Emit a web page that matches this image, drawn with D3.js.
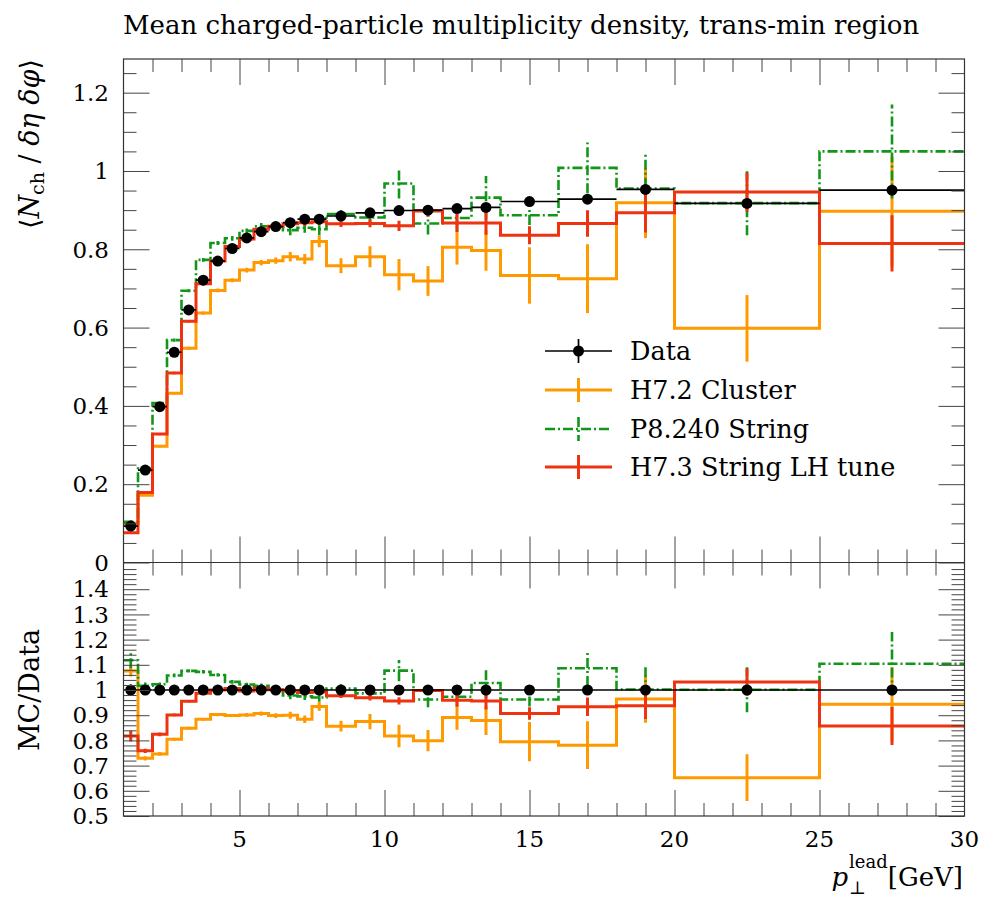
<!DOCTYPE html>
<html>
<head>
<meta charset="utf-8">
<script src="https://cdn.jsdelivr.net/npm/d3@7/dist/d3.min.js"></script>
<style>
body { margin: 0; background: #fff; }
svg { display: block; }
text { font-family: "DejaVu Serif", serif; fill: #000; }
</style>
</head>
<body>
<svg id="vis" width="996" height="900"></svg>
<script>
// bin edges of the leading-track pT histogram
const binEdges = [1, 1.5, 2, 2.5, 3, 3.5, 4, 4.5, 5, 5.5, 6, 6.5, 7, 7.5, 8,
    9, 10, 11, 12, 13, 14, 16, 18, 20, 25, 30];

// measured data
const dataVals = [0.093, 0.236, 0.398, 0.537, 0.645, 0.721, 0.770, 0.802, 0.829, 0.845,
    0.858, 0.868, 0.877, 0.877, 0.885, 0.893, 0.899, 0.900, 0.904, 0.907,
    0.922, 0.928, 0.953, 0.917, 0.951];
const dataErrs = [0.002, 0.002, 0.002, 0.002, 0.002, 0.002, 0.002, 0.002, 0.003, 0.003,
    0.003, 0.003, 0.003, 0.003, 0.003, 0.004, 0.004, 0.005, 0.005, 0.005,
    0.005, 0.006, 0.007, 0.008, 0.010];

// H7.2 Cluster
const h72Vals = [0.100, 0.172, 0.297, 0.432, 0.547, 0.637, 0.695, 0.721, 0.747, 0.766,
    0.771, 0.781, 0.775, 0.820, 0.758, 0.781, 0.735, 0.719, 0.805, 0.797,
    0.733, 0.725, 0.919, 0.598, 0.897];
const h72Errs = [0.002, 0.002, 0.003, 0.003, 0.004, 0.004, 0.005, 0.005, 0.006, 0.007,
    0.008, 0.012, 0.013, 0.015, 0.019, 0.027, 0.040, 0.038, 0.044, 0.052,
    0.072, 0.088, 0.090, 0.085, 0.140];

// P8.240 String
const p8Vals = [0.104, 0.240, 0.407, 0.568, 0.694, 0.773, 0.816, 0.828, 0.847, 0.859,
    0.859, 0.849, 0.855, 0.851, 0.890, 0.881, 0.968, 0.866, 0.880, 0.932,
    0.887, 1.008, 0.955, 0.918, 1.050];
const p8Errs = [0.003, 0.003, 0.003, 0.004, 0.004, 0.005, 0.005, 0.006, 0.006, 0.008,
    0.010, 0.013, 0.013, 0.015, 0.015, 0.017, 0.038, 0.028, 0.030, 0.055,
    0.025, 0.065, 0.090, 0.082, 0.120];

// H7.3 String LH tune
const h73Vals = [0.076, 0.179, 0.328, 0.484, 0.616, 0.712, 0.770, 0.807, 0.826, 0.851,
    0.859, 0.865, 0.868, 0.870, 0.865, 0.866, 0.860, 0.898, 0.867, 0.867,
    0.836, 0.866, 0.893, 0.946, 0.815];
const h73Errs = [0.002, 0.002, 0.003, 0.003, 0.003, 0.004, 0.004, 0.004, 0.005, 0.005,
    0.006, 0.006, 0.008, 0.008, 0.008, 0.010, 0.013, 0.015, 0.023, 0.030,
    0.023, 0.034, 0.050, 0.050, 0.072];

const xTickLabels = [5, 10, 15, 20, 25, 30];
const mainTickLabels = ["0", "0.2", "0.4", "0.6", "0.8", "1", "1.2"];
const ratioTickLabels = ["0.5", "0.6", "0.7", "0.8", "0.9", "1", "1.1", "1.2", "1.3", "1.4"];

const svg = d3.select('#vis');

const X0 = 123.5, X1 = 964.5, Y0 = 59, YM = 562.5, Y1 = 816;
const x = d3.scaleLinear().domain([1, 30]).range([X0, X1]);
const yMain = d3.scaleLinear().domain([0, 1.286]).range([YM, Y0]);
const yRatio = d3.scaleLinear().domain([0.5, 1.506]).range([Y1, YM]);

const series = [
    {name: "H7.2 Cluster", vals: h72Vals, errs: h72Errs, color: "#FF9900", width: 3, dash: null},
    {name: "P8.240 String", vals: p8Vals, errs: p8Errs, color: "#109618", width: 2.6, dash: "10,3,2,3"},
    {name: "H7.3 String LH tune", vals: h73Vals, errs: h73Errs, color: "#EE3311", width: 3, dash: null}
];

const defs = svg.append('defs');
defs.append('clipPath').attr('id', 'clipMain').append('rect')
    .attr('x', X0).attr('y', Y0).attr('width', X1 - X0).attr('height', YM - Y0);
defs.append('clipPath').attr('id', 'clipRatio').append('rect')
    .attr('x', X0).attr('y', YM).attr('width', X1 - X0).attr('height', Y1 - YM);

const centers = binEdges.slice(0, -1).map(function (lo, i) {
    return (lo + binEdges[i + 1]) / 2;
});

// step histogram with vertical error bars
function drawHist(g, y, vals, errs, s) {
    var pts = [];
    vals.forEach(function (v, i) {
        pts.push([binEdges[i], v]);
        pts.push([binEdges[i + 1], v]);
    });
    var line = d3.line().x(function (d) { return x(d[0]); }).y(function (d) { return y(d[1]); });
    g.append('path')
        .attr('d', line(pts))
        .attr('fill', 'none')
        .attr('stroke', s.color)
        .attr('stroke-width', s.width)
        .attr('stroke-dasharray', s.dash)
        .attr('stroke-linejoin', 'miter');
    g.selectAll(null)
        .data(vals)
        .enter().append('line')
        .attr('x1', function (d, i) { return x(centers[i]); })
        .attr('x2', function (d, i) { return x(centers[i]); })
        .attr('y1', function (d, i) { return y(d - errs[i]); })
        .attr('y2', function (d, i) { return y(d + errs[i]); })
        .attr('stroke', s.color)
        .attr('stroke-width', s.width)
        .attr('stroke-dasharray', s.dash);
}

function drawData(g, y, vals, errs) {
    g.selectAll(null).data(vals).enter().append('line')
        .attr('x1', function (d, i) { return x(binEdges[i]); })
        .attr('x2', function (d, i) { return x(binEdges[i + 1]); })
        .attr('y1', function (d) { return y(d); })
        .attr('y2', function (d) { return y(d); })
        .attr('stroke', '#000').attr('stroke-width', 1.7);
    g.selectAll(null).data(vals).enter().append('line')
        .attr('x1', function (d, i) { return x(centers[i]); })
        .attr('x2', function (d, i) { return x(centers[i]); })
        .attr('y1', function (d, i) { return y(d - errs[i]); })
        .attr('y2', function (d, i) { return y(d + errs[i]); })
        .attr('stroke', '#000').attr('stroke-width', 1.7);
    g.selectAll(null).data(vals).enter().append('circle')
        .attr('cx', function (d, i) { return x(centers[i]); })
        .attr('cy', function (d) { return y(d); })
        .attr('r', 5.5)
        .attr('fill', '#000');
}

// main panel
const gMain = svg.append('g').attr('clip-path', 'url(#clipMain)');
series.forEach(function (s) {
    drawHist(gMain, yMain, s.vals, s.errs, s);
});
drawData(gMain, yMain, dataVals, dataErrs);

// ratio panel
const gRatio = svg.append('g').attr('clip-path', 'url(#clipRatio)');
series.forEach(function (s) {
    var r = s.vals.map(function (v, i) { return v / dataVals[i]; });
    var re = s.errs.map(function (e, i) { return e / dataVals[i]; });
    drawHist(gRatio, yRatio, r, re, s);
});
drawData(gRatio, yRatio, dataVals.map(function () { return 1; }),
    dataErrs.map(function (e, i) { return e / dataVals[i]; }));

// ticks (inward), drawn with d3 axes
const tickColor = '#444';
function ticks(axis, transform) {
    var g = svg.append('g').attr('transform', transform).call(axis);
    g.select('.domain').remove();
    g.selectAll('line').attr('stroke', tickColor).attr('stroke-width', 1);
    g.selectAll('text').remove();
}
const xMinor = d3.range(2, 30).filter(function (v) { return v % 5 !== 0; });
const xMajor = xTickLabels.filter(function (v) { return v < 30; });
[YM, Y1].forEach(function (yy) {
    ticks(d3.axisBottom(x).tickValues(xMinor).tickSize(-13), 'translate(0,' + yy + ')');
    ticks(d3.axisBottom(x).tickValues(xMajor).tickSize(-26), 'translate(0,' + yy + ')');
});
[Y0, YM].forEach(function (yy) {
    ticks(d3.axisTop(x).tickValues(xMinor).tickSize(-13), 'translate(0,' + yy + ')');
    ticks(d3.axisTop(x).tickValues(xMajor).tickSize(-26), 'translate(0,' + yy + ')');
});

const mainMajor = mainTickLabels.map(Number);
const mainMinor = d3.range(1, 26).map(function (k) { return k * 0.05; })
    .filter(function (v) { return Math.abs(v / 0.2 - Math.round(v / 0.2)) > 1e-6; });
const ratioMajor = ratioTickLabels.map(Number);
const ratioMinor = d3.range(26, 75).map(function (k) { return k * 0.02; })
    .filter(function (v) { return Math.abs(v * 10 - Math.round(v * 10)) > 1e-6; });

ticks(d3.axisLeft(yMain).tickValues(mainMinor).tickSize(-13), 'translate(' + X0 + ',0)');
ticks(d3.axisLeft(yMain).tickValues(mainMajor).tickSize(-26), 'translate(' + X0 + ',0)');
ticks(d3.axisRight(yMain).tickValues(mainMinor).tickSize(-13), 'translate(' + X1 + ',0)');
ticks(d3.axisRight(yMain).tickValues(mainMajor).tickSize(-26), 'translate(' + X1 + ',0)');
ticks(d3.axisLeft(yRatio).tickValues(ratioMinor).tickSize(-13), 'translate(' + X0 + ',0)');
ticks(d3.axisLeft(yRatio).tickValues(ratioMajor).tickSize(-26), 'translate(' + X0 + ',0)');
ticks(d3.axisRight(yRatio).tickValues(ratioMinor).tickSize(-13), 'translate(' + X1 + ',0)');
ticks(d3.axisRight(yRatio).tickValues(ratioMajor).tickSize(-26), 'translate(' + X1 + ',0)');

// frame
svg.append('rect').attr('x', X0).attr('y', Y0).attr('width', X1 - X0).attr('height', Y1 - Y0)
    .attr('fill', 'none').attr('stroke', '#333').attr('stroke-width', 1.2);
svg.append('line').attr('x1', X0).attr('x2', X1).attr('y1', YM).attr('y2', YM)
    .attr('stroke', '#333').attr('stroke-width', 1.2);

// tick labels
const labelSize = '23px';
svg.selectAll('.xlab').data(xTickLabels).enter().append('text')
    .attr('class', 'xlab')
    .attr('x', function (d) { return x(d); })
    .attr('y', 847)
    .attr('text-anchor', 'middle')
    .style('font-size', labelSize)
    .text(function (d) { return d; });
svg.selectAll('.ylab').data(mainTickLabels).enter().append('text')
    .attr('class', 'ylab')
    .attr('x', 109)
    .attr('y', function (d) { return yMain(+d); })
    .attr('dy', '0.36em')
    .attr('text-anchor', 'end')
    .style('font-size', labelSize)
    .text(function (d) { return d; });
svg.selectAll('.rlab').data(ratioTickLabels).enter().append('text')
    .attr('class', 'rlab')
    .attr('x', 109)
    .attr('y', function (d) { return yRatio(+d); })
    .attr('dy', '0.36em')
    .attr('text-anchor', 'end')
    .style('font-size', labelSize)
    .text(function (d) { return d; });

// title
svg.append('text').attr('x', 123).attr('y', 34)
    .style('font-size', '26px')
    .text('Mean charged-particle multiplicity density, trans-min region');

// y axis label (main)
const yl = svg.append('text')
    .attr('transform', 'translate(39,' + Y0 + ') rotate(-90)')
    .attr('text-anchor', 'end')
    .style('font-size', '27px');
yl.append('tspan').text('\u27E8');
yl.append('tspan').style('font-style', 'italic').text('N');
yl.append('tspan').attr('dy', 5).style('font-size', '19px').text('ch');
yl.append('tspan').attr('dy', -5).text(' / ');
yl.append('tspan').style('font-style', 'italic').text('\u03B4\u03B7 \u03B4\u03C6');
yl.append('tspan').text('\u27E9');

// y axis label (ratio)
svg.append('text')
    .attr('transform', 'translate(39,' + yRatio(1) + ') rotate(-90)')
    .attr('text-anchor', 'middle')
    .style('font-size', '27px')
    .text('MC/Data');

// x axis label
const gev = svg.append('text').attr('x', 963).attr('y', 886)
    .attr('text-anchor', 'end').style('font-size', '26px').text('[GeV]');
const leadEnd = 963 - gev.node().getComputedTextLength();
const lead = svg.append('text').attr('x', leadEnd).attr('y', 868)
    .attr('text-anchor', 'end').style('font-size', '18px').text('lead');
const leadStart = leadEnd - lead.node().getComputedTextLength();
svg.append('text').attr('x', leadStart).attr('y', 894)
    .style('font-size', '18px').text('\u22A5');
svg.append('text').attr('x', leadStart - 1).attr('y', 886)
    .attr('text-anchor', 'end').style('font-size', '26px').style('font-style', 'italic').text('p');

// legend
const legendY = [351, 390, 429, 467];
const legendNames = ["Data"].concat(series.map(function (s) { return s.name; }));
const lg = svg.append('g');
legendNames.forEach(function (name, i) {
    var yy = legendY[i];
    var s = i === 0 ? {color: '#000', width: 1.7, dash: null} : series[i - 1];
    lg.append('line').attr('x1', 545).attr('x2', 612).attr('y1', yy).attr('y2', yy)
        .attr('stroke', s.color).attr('stroke-width', s.width).attr('stroke-dasharray', s.dash);
    lg.append('line').attr('x1', 578.5).attr('x2', 578.5).attr('y1', yy - 12).attr('y2', yy + 12)
        .attr('stroke', s.color).attr('stroke-width', s.width).attr('stroke-dasharray', s.dash);
    if (i === 0) {
        lg.append('circle').attr('cx', 578.5).attr('cy', yy).attr('r', 5.5).attr('fill', '#000');
    }
    lg.append('text').attr('x', 630).attr('y', yy).attr('dy', '0.36em')
        .style('font-size', '25.5px').text(name);
});
</script>
</body>
</html>
